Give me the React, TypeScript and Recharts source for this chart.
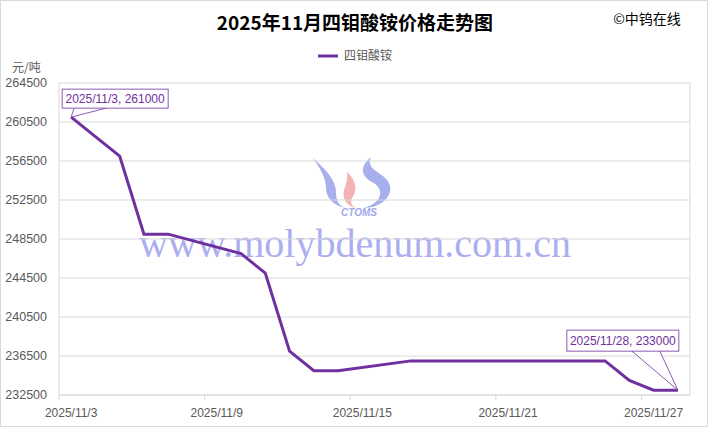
import React from 'react';
import { LineChart, Line, XAxis, YAxis, CartesianGrid, ReferenceLine } from 'recharts';

// trading days of November 2025 and the price (元/吨)
const dates = [
  '2025/11/3', '2025/11/4', '2025/11/5', '2025/11/6', '2025/11/7',
  '2025/11/10', '2025/11/11', '2025/11/12', '2025/11/13', '2025/11/14',
  '2025/11/17', '2025/11/18', '2025/11/19', '2025/11/20', '2025/11/21',
  '2025/11/24', '2025/11/25', '2025/11/26', '2025/11/27', '2025/11/28',
];
const prices = [
  261000, 259000, 257000, 249000, 249000,
  247000, 245000, 237000, 235000, 235000,
  236000, 236000, 236000, 236000, 236000,
  236000, 236000, 234000, 233000, 233000,
];
const xTickLabels = ['2025/11/3', '2025/11/9', '2025/11/15', '2025/11/21', '2025/11/27'];
const yTicks = [232500, 236500, 240500, 244500, 248500, 252500, 256500, 260500, 264500];

const FIRST_DAY = 3;
const LAST_DAY = 28;
const dayOf = (d: string) => Number(d.split('/')[2]) - FIRST_DAY;

const data = dates.map((d, i) => ({ day: dayOf(d), date: d, price: prices[i] }));
const xTicks = xTickLabels.map(dayOf);

const PURPLE = '#7030A0';
const GRID = '#d9d9d9';
const TEXT = '#595959';
const FONT = '"Liberation Sans", "Noto Sans CJK SC", sans-serif';
const CJK = '"Noto Sans CJK SC", sans-serif';

const PLOT_LEFT = 59;
const PLOT_RIGHT = 690;
const PLOT_BOTTOM = 395;
const HALF_DAY = (PLOT_RIGHT - PLOT_LEFT) / (LAST_DAY - FIRST_DAY + 1) / 2;

const XTick = (props: any) => {
  const { x, y, payload } = props;
  const label = xTickLabels[xTicks.indexOf(payload.value)];
  return (
    <g>
      <line x1={x - HALF_DAY} x2={x - HALF_DAY} y1={PLOT_BOTTOM} y2={PLOT_BOTTOM + 5} stroke={GRID} />
      <text x={x} y={y + 1} dy="0.71em" textAnchor="middle" fill={TEXT} fontSize={12} fontFamily={FONT}>
        {label}
      </text>
    </g>
  );
};

const Callout = (props: any) => {
  const { x, y, index } = props;
  const last = data.length - 1;
  if (index !== 0 && index !== last) return null;
  const text = `${data[index].date}, ${data[index].price}`;
  if (index === 0) {
    return (
      <g>
        <path d={`M${x + 3},${y - 9} L${x},${y} L${x + 35},${y - 9}`} fill="white" stroke={PURPLE} strokeWidth={0.8} />
        <rect x={x - 9} y={y - 28} width={106} height={19} fill="white" stroke={PURPLE} strokeWidth={0.8} />
        <text x={x + 44} y={y - 14} textAnchor="middle" fill={PURPLE} fontSize={12} fontFamily={FONT}>{text}</text>
      </g>
    );
  }
  return (
    <g>
      <path d={`M${x - 46},${y - 39} L${x},${y} L${x - 18},${y - 39}`} fill="white" stroke={PURPLE} strokeWidth={0.8} />
      <rect x={x - 111} y={y - 60} width={112} height={21} fill="white" stroke={PURPLE} strokeWidth={0.8} />
      <text x={x - 55} y={y - 45} textAnchor="middle" fill={PURPLE} fontSize={12} fontFamily={FONT}>{text}</text>
    </g>
  );
};

const Backdrop = () => (
  <svg width={710} height={429} style={{ position: 'absolute', left: 0, top: 0 }}>
    <rect x={0.5} y={0.5} width={707} height={426} fill="white" stroke={GRID} />
    <text x={355} y={30} textAnchor="middle" fontSize={19} fontWeight="bold" fill="#000" fontFamily={CJK}>
      2025年11月四钼酸铵价格走势图
    </text>
    <text x={647} y={24} textAnchor="middle" fontSize={14} fill="#000" fontFamily={CJK}>
      ©中钨在线
    </text>
    <line x1={318} x2={338} y1={56} y2={56} stroke={PURPLE} strokeWidth={3} />
    <text x={344} y={60} fontSize={12} fill={TEXT} fontFamily={CJK}>四钼酸铵</text>
    <text x={12} y={72} fontSize={12} fill={TEXT} fontFamily={CJK}>元/吨</text>
    {/* CTOMS logo */}
    <g opacity={0.75}>
      <path d="M313,158 C326,170 336,180 336,192 C336,200 338,206 346,208 C334,206 326,198 326,188 C326,178 320,168 313,158 Z" fill="#8a95e6" />
      <path d="M347,172 C356,180 358,190 352,198 C350,203 352,206 356,208 C346,206 342,198 344,190 C346,184 348,178 347,172 Z" fill="#f29a9a" />
      <path d="M371,157 C360,166 360,176 372,182 C384,188 384,202 364,208 C380,208 392,198 390,186 C388,176 374,172 371,166 C369,162 370,160 371,157 Z" fill="#8a95e6" />
      <text x={359} y={216} textAnchor="middle" fontSize={10} fontWeight="bold" fontStyle="italic" fill="#7f8be4" fontFamily={FONT}>CTOMS</text>
    </g>
    <text x={355} y={257} textAnchor="middle" fontSize={40} fill="#9da0ee" opacity={0.85} fontFamily='"Liberation Serif", serif'>
      www.molybdenum.com.cn
    </text>
  </svg>
);

export default function App() {
  return (
    <div style={{ position: 'absolute', left: 0, top: 0, width: 710, height: 429 }}>
      <Backdrop />
      <div style={{ position: 'absolute', left: 0, top: 0 }}>
        <LineChart width={710} height={429} data={data} margin={{ top: 83, right: 20, left: 8, bottom: 4 }}>
          <CartesianGrid vertical={false} stroke={GRID} />
          <XAxis
            dataKey="day"
            type="number"
            domain={[-0.5, LAST_DAY - FIRST_DAY + 0.5]}
            ticks={xTicks}
            tick={<XTick />}
            tickLine={false}
            tickMargin={6}
            height={30}
            axisLine={{ stroke: GRID }}
          />
          <YAxis
            domain={[232500, 264500]}
            ticks={yTicks}
            width={51}
            tickLine={false}
            tickMargin={6}
            axisLine={{ stroke: GRID }}
            tick={{ fill: TEXT, fontSize: 12.5, fontFamily: FONT }}
          />
          <ReferenceLine x={LAST_DAY - FIRST_DAY + 0.5} stroke={GRID} />
          <Line
            dataKey="price"
            stroke={PURPLE}
            strokeWidth={3}
            dot={false}
            isAnimationActive={false}
            label={<Callout />}
          />
        </LineChart>
      </div>
    </div>
  );
}
